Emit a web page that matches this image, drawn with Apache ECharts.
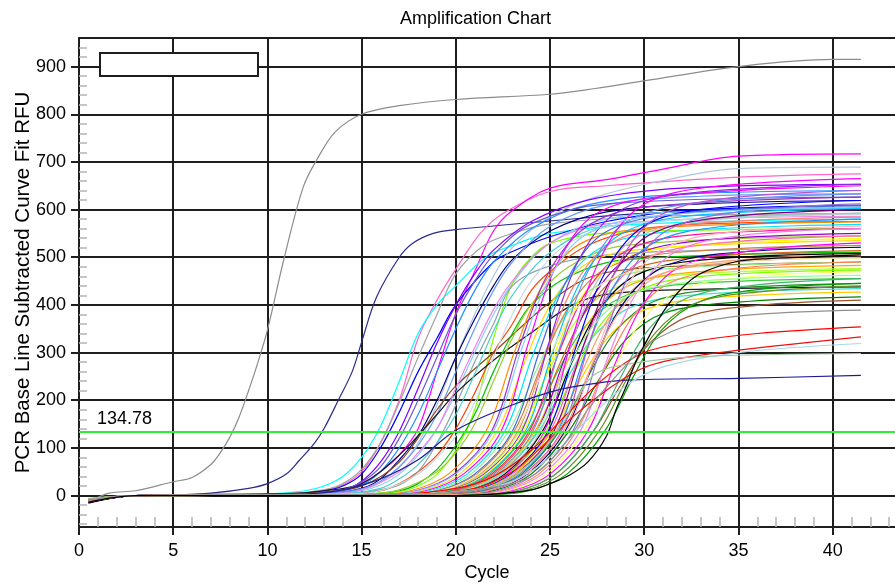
<!DOCTYPE html>
<html>
<head>
<meta charset="utf-8">
<script src="https://cdn.jsdelivr.net/npm/echarts@6/dist/echarts.min.js"></script>
<style>
  html, body { margin: 0; padding: 0; background: #fff; }
  #chart { width: 895px; height: 586px; }
</style>
</head>
<body>
<div id="chart"></div>
<script>
// Axis ticks and threshold
const xTicks = [0, 5, 10, 15, 20, 25, 30, 35, 40];
const yTicks = [0, 100, 200, 300, 400, 500, 600, 700, 800, 900];
const threshold = 134.78;

// Two early reference wells: [cycle, RFU]
const refColors = ['#8c8c8c', '#2b2b8c'];
const refCurves = [
  [[.5,-14],[1.6,5],[3,10],[5,29],[6,38],[7,65],[7.5,90],[8,122],[8.5,165],[9,220],[9.5,280],[10,347],[10.9,500],[11.9,647],[12.6,703],[13.6,763],[15,800],[17,818],[20,831],[25,842],[27.4,854],[30,870],[35,900],[40,915],[41.5,915]],
  [[.5,-10],[3,0],[5,1],[7,5],[9,15],[10,25],[11,45],[11.7,74],[12.5,110],[13,140],[13.8,203],[14.5,260],[15,322],[15.8,417],[17,500],[17.7,529],[18.8,550],[20,558],[25,576],[30,592],[41.5,605]]
];

// Early-amplifying wells
const earlyColors = ['#ff66cc','#ff00ff','#00ffff','#a0a0a0','#0000ff','#b0c4de','#1e90ff','#8000ff','#000080','#87cefa','#6699ff','#80ff00','#ff4500','#8fa0b0','#8b4513','#1a1a1a','#00c000','#9acd32','#ee82ee','#6a5acd','#48d1cc','#c8d8e8'];
const earlyCurves = [
  [[.5,-8],[3,0],[11,3],[13,10],[14,22],[15,50],[16,110],[17,200],[18,330],[19,410],[20,475],[21.3,550],[22.5,592],[25,638],[28,650],[35,668],[41.5,675]],
  [[.5,-10],[3,0],[12,3],[14,10],[15,25],[16,50],[17,85],[18,140],[19,260],[20,382],[21,470],[22,555],[23,598],[25,645],[28,663],[31,685],[35,712],[41.5,717]],
  [[.5,-9],[3,0],[10,3],[12,10],[13,20],[14,40],[15,80],[16,145],[17,240],[18,340],[19,400],[20,440],[21.6,500],[23,525],[25,550],[30,570],[41.5,580]],
  [[.5,-11],[3,0],[11,4],[13,12],[14,25],[15,55],[16,110],[17,195],[18,290],[19,380],[20,465],[21.5,525],[23,550],[25,570],[30,585],[41.5,592]],
  [[.5,-10],[3,0],[11,3],[13,10],[14,20],[15,45],[16,100],[17,175],[18,260],[19,330],[20,400],[22,490],[23,512],[25,543],[28,575],[32,598],[41.5,609]],
  [[.5,-8],[3,0],[13,4],[15,12],[16,28],[17,60],[18,110],[19,190],[20,290],[21,380],[22,460],[23,520],[25,585],[27.4,626],[31,661],[35,686],[41.5,689]],
  [[.5,-9],[3,0],[12,3],[14,10],[15,22],[16,50],[17,100],[18,170],[19,260],[20,350],[21,430],[22,490],[24,560],[27,610],[32,632],[41.5,640]],
  [[.5,-10],[3,0],[12,4],[14,12],[15,30],[16,70],[17,135],[18,225],[19,320],[20,400],[21,465],[22,515],[24,575],[27,620],[32,645],[41.5,653]],
  [[.5,-12],[3,0],[13,4],[15,15],[16,35],[17,75],[18,125],[19,200],[20,290],[21,370],[22,440],[23,495],[25,555],[28,595],[33,612],[41.5,619]],
  [[.5,-8],[3,0],[13,3],[15,10],[16,22],[17,45],[18,85],[19,140],[20,215],[21,300],[22,380],[23,445],[25,530],[28,580],[33,597],[41.5,602]],
  [[.5,-10],[3,0],[13,4],[15,14],[16,30],[17,60],[18,105],[19,170],[20,260],[21,350],[22,430],[23,490],[25,565],[28,610],[33,628],[41.5,633]],
  [[.5,-7],[3,0],[15,4],[17,8],[18,20],[19,45],[20,95],[21,180],[22,330],[23,445],[24,500],[25,529],[27.7,550],[33,557],[41.5,560]],
  [[.5,-9],[3,0],[14,3],[16,10],[17,25],[18,50],[19,85],[20,140],[21,215],[22,300],[23,360],[24,430],[25,470],[27,525],[30,560],[35,572],[41.5,575]],
  [[.5,-10],[3,0],[14,4],[16,12],[17,22],[18,50],[19,110],[20,190],[21,280],[22,360],[23,440],[25,482],[28,505],[35,516],[41.5,521]],
  [[.5,-11],[3,0],[11,3],[13,8],[15,20],[17,70],[19,180],[20,230],[22,300],[24.5,390],[26.4,445],[28,468],[31,480],[41.5,490]],
  [[.5,-13],[3,0],[11,4],[13,10],[15,25],[17,85],[19,170],[20,215],[22.2,290],[24.3,350],[26.2,400],[28,422],[32,432],[41.5,438]],
  [[.5,-8],[3,0],[15,3],[17,10],[18,25],[19,55],[20,105],[21,170],[22,260],[23,340],[24,400],[26,460],[29,495],[41.5,510]],
  [[.5,-9],[3,0],[15,3],[17,12],[19,50],[20,90],[21,150],[22,240],[23,330],[24,400],[26,480],[29,525],[41.5,545]],
  [[.5,-11],[3,0],[13,3],[15,12],[17,50],[18,90],[19,140],[20,225],[21,310],[22,390],[23,450],[25,530],[28,570],[41.5,586]],
  [[.5,-10],[3,0],[12,3],[14,12],[15,28],[16,60],[17,120],[18,200],[19,290],[20,380],[21,450],[22,505],[24,570],[28,612],[41.5,626]],
  [[.5,-9],[3,0],[14,4],[16,15],[17,35],[18,65],[19,110],[20,170],[21,255],[22,345],[23,420],[25,510],[28,565],[41.5,592]],
  [[.5,-8],[3,0],[14,3],[16,10],[18,45],[19,80],[20,125],[21,195],[22,290],[23,380],[24,450],[26,530],[29,570],[41.5,590]]
];

// Main cluster of wells
const mainColors = ['#ff8c00','#9932cc','#ffd700','#ff00ff','#00e5ff','#90ee90','#4169e1','#cd853f','#fa8072','#adff2f','#8a2be2','#ffff00','#00bfff','#32cd32','#ff1493','#d2691e','#6495ed','#ffa500','#9400d3','#40e0d0','#c0c0c0','#000000','#ff00ff','#7fff00','#0000ff','#ff69b4','#ffcc00','#800080','#f4a460','#1e90ff','#228b22','#ba55d3','#000080','#ffb6c1','#008000','#9370db','#ff7f50','#ee82ee','#ffff66','#ff00ff','#a0522d','#3cb371','#00a000','#6b8e23','#87cefa','#eee8aa','#98fb98','#ffa07a'];
const mainCurves = [
  [[.5,-12],[3,0],[15.6,2],[17.6,10],[19.6,45],[21.6,135],[23.1,300],[24.6,440],[26.6,528],[30,560],[41.5,574]],
  [[.5,-9],[3,0],[15.9,2],[17.9,10],[19.9,45],[21.9,135],[23.4,315],[24.9,466],[26.9,563],[30,605],[41.5,626]],
  [[.5,-14],[3,0],[16.2,2],[18.2,10],[20.2,45],[22.2,135],[23.7,285],[25.2,412],[27.2,492],[31,520],[41.5,535]],
  [[.5,-7],[3,0],[16.4,2],[18.4,10],[20.4,45],[22.4,135],[23.9,326],[25.4,488],[27.4,590],[31,628],[41.5,650]],
  [[.5,-11],[3,0],[16.6,2],[18.6,10],[20.6,45],[22.6,135],[24.1,296],[25.6,432],[27.6,518],[31,552],[41.5,569]],
  [[.5,-6],[3,0],[16.8,2],[18.8,10],[20.8,45],[22.8,135],[24.3,265],[25.8,376],[27.8,447],[31,475],[41.5,490]],
  [[.5,-13],[3,0],[17,2],[19,10],[21,45],[23,135],[24.5,310],[26,460],[28,554],[32,592],[41.5,609]],
  [[.5,-10],[3,0],[17.1,2],[19.1,10],[21.1,45],[23.1,135],[24.6,279],[26.1,402],[28.1,479],[32,511],[41.5,525]],
  [[.5,-8],[3,0],[17.3,2],[19.3,10],[21.3,45],[23.3,135],[24.8,302],[26.3,442],[28.3,531],[32,568],[41.5,584]],
  [[.5,-12],[3,0],[17.4,2],[19.4,10],[21.4,45],[23.4,135],[24.9,260],[26.4,367],[28.4,435],[32,463],[41.5,476]],
  [[.5,-15],[3,0],[17.5,2],[19.5,10],[21.5,45],[23.5,135],[25,328],[26.5,492],[28.5,593],[32,633],[41.5,653]],
  [[.5,-9],[3,0],[17.6,2],[19.6,10],[21.6,45],[23.6,135],[25.1,285],[26.6,412],[28.6,491],[32,524],[41.5,539]],
  [[.5,-11],[3,0],[17.7,2],[19.7,10],[21.7,45],[23.7,135],[25.2,308],[26.7,455],[28.7,547],[32,585],[41.5,602]],
  [[.5,-7],[3,0],[17.8,2],[19.8,10],[21.8,45],[23.8,135],[25.3,252],[26.8,352],[28.8,416],[32,443],[41.5,455]],
  [[.5,-13],[3,0],[17.9,2],[19.9,10],[21.9,45],[23.9,135],[25.4,293],[26.9,426],[28.9,510],[32,545],[41.5,560]],
  [[.5,-10],[3,0],[18,2],[20,10],[22,45],[24,135],[25.5,275],[27,392],[29,469],[33,500],[41.5,514]],
  [[.5,-12],[3,0],[18.1,2],[20.1,10],[22.1,45],[24.1,135],[25.6,320],[27.1,477],[29.1,575],[33,615],[41.5,633]],
  [[.5,-8],[3,0],[18.2,2],[20.2,10],[22.2,45],[24.2,135],[25.7,263],[27.2,372],[29.2,441],[33,470],[41.5,483]],
  [[.5,-14],[3,0],[18.3,2],[20.3,10],[22.3,45],[24.3,135],[25.8,289],[27.3,419],[29.3,501],[33,535],[41.5,550]],
  [[.5,-9],[3,0],[18.4,2],[20.4,10],[22.4,45],[24.4,135],[25.9,245],[27.4,338],[29.4,397],[33,422],[41.5,434]],
  [[.5,-11],[3,0],[18.5,2],[20.5,10],[22.5,45],[24.5,135],[26,305],[27.5,449],[29.5,539],[33,576],[41.5,592]],
  [[.5,-16],[3,0],[18.6,2],[20.6,10],[22.6,45],[24.6,135],[26.1,274],[27.6,390],[29.6,463],[33,494],[41.5,508]],
  [[.5,-10],[3,0],[18.7,2],[20.7,10],[22.7,45],[24.7,135],[26.2,333],[27.7,500],[29.7,604],[33,645],[41.5,665]],
  [[.5,-7],[3,0],[18.8,2],[20.8,10],[22.8,45],[24.8,135],[26.3,259],[27.8,365],[29.8,432],[33,460],[41.5,473]],
  [[.5,-12],[3,0],[18.9,2],[20.9,10],[22.9,45],[24.9,135],[26.4,314],[27.9,466],[29.9,563],[33,600],[41.5,619]],
  [[.5,-9],[3,0],[19,2],[21,10],[23,45],[25,135],[26.5,287],[28,416],[30,496],[34,530],[41.5,545]],
  [[.5,-11],[3,0],[19.1,2],[21.1,10],[23.1,45],[25.1,135],[26.6,242],[28.1,333],[30.1,391],[34,416],[41.5,427]],
  [[.5,-13],[3,0],[19.2,2],[21.2,10],[23.2,45],[25.2,135],[26.7,306],[28.2,452],[30.2,545],[34,583],[41.5,600]],
  [[.5,-8],[3,0],[19.3,2],[21.3,10],[23.3,45],[25.3,135],[26.8,269],[28.3,384],[30.3,456],[34,487],[41.5,500]],
  [[.5,-10],[3,0],[19.4,2],[21.4,10],[23.4,45],[25.4,135],[26.9,300],[28.4,440],[30.4,528],[34,564],[41.5,580]],
  [[.5,-12],[3,0],[19.5,2],[21.5,10],[23.5,45],[25.5,135],[27,248],[28.5,346],[30.5,407],[34,433],[41.5,445]],
  [[.5,-9],[3,0],[19.6,2],[21.6,10],[23.6,45],[25.6,135],[27.1,322],[28.6,482],[30.6,582],[34,622],[41.5,640]],
  [[.5,-14],[3,0],[19.8,2],[21.8,10],[23.8,45],[25.8,135],[27.3,278],[28.8,398],[30.8,475],[34,507],[41.5,521]],
  [[.5,-7],[3,0],[19.9,2],[21.9,10],[23.9,45],[25.9,135],[27.4,295],[28.9,430],[30.9,515],[34,550],[41.5,565]],
  [[.5,-11],[3,0],[20,2],[22,10],[24,45],[26,135],[27.5,237],[29,326],[31,382],[35,406],[41.5,417]],
  [[.5,-10],[3,0],[20.2,2],[22.2,10],[24.2,45],[26.2,135],[27.7,310],[29.2,462],[31.2,556],[35,595],[41.5,612]],
  [[.5,-8],[3,0],[20.4,2],[22.4,10],[24.4,45],[26.4,135],[27.9,266],[29.4,376],[31.4,447],[35,477],[41.5,490]],
  [[.5,-12],[3,0],[20.6,2],[22.6,10],[24.6,45],[26.6,135],[28.1,293],[29.6,426],[31.6,510],[35,545],[41.5,560]],
  [[.5,-9],[3,0],[20.8,2],[22.8,10],[24.8,45],[26.8,135],[28.3,258],[29.8,363],[31.8,429],[35,457],[41.5,470]],
  [[.5,-13],[3,0],[21,2],[23,10],[25,45],[27,135],[28.5,281],[30,405],[32,482],[36,515],[41.5,530]],
  [[.5,-10],[3,0],[21.3,2],[23.3,10],[25.3,45],[27.3,135],[28.8,235],[30.3,320],[32.3,375],[36,399],[41.5,410]],
  [[.5,-11],[3,0],[21.3,2],[23.3,10],[25.3,45],[27.3,135],[28.8,252],[30.3,352],[32.3,415],[36,442],[41.5,455]],
  [[.5,-8],[3,0],[21.9,2],[23.9,10],[25.9,45],[27.9,135],[29.4,248],[30.9,346],[32.9,406],[36,432],[41.5,445]],
  [[.5,-12],[3,0],[21.6,2],[23.6,10],[25.6,45],[27.6,135],[29.1,246],[30.6,342],[32.6,402],[36,427],[41.5,440]],
  [[.5,-10],[3,0],[16,2],[18,10],[20,45],[22,135],[23.5,308],[25,458],[27,550],[31,588],[41.5,605]],
  [[.5,-9],[3,0],[17.2,2],[19.2,10],[21.2,45],[23.2,135],[24.7,268],[26.2,382],[28.2,454],[32,485],[41.5,498]],
  [[.5,-11],[3,0],[18.3,2],[20.3,10],[22.3,45],[24.3,135],[25.8,254],[27.3,357],[29.3,422],[33,450],[41.5,462]],
  [[.5,-13],[3,0],[19.7,2],[21.7,10],[23.7,45],[25.7,135],[27.2,271],[28.7,387],[30.7,460],[34,491],[41.5,505]]
];

// Low-plateau and late wells
const lowColors = ['#1c1c99','#ff0000','#ee1111','#a8d8e8','#9cc89c','#909090','#000000'];
const lowCurves = [
  [[.5,-10],[3,0],[12,3],[14,12],[16,35],[18,75],[20,137],[23,190],[25,217],[26.2,228],[29,242],[35,246],[41.5,252]],
  [[.5,-9],[3,0],[17,3],[20,15],[22,40],[24,95],[26,175],[28,250],[30,300],[32.4,322],[36,340],[41.5,354]],
  [[.5,-12],[3,0],[18,3],[21,15],[23,50],[24.5,100],[26.2,165],[28,221],[29.8,265],[31.5,285],[35,305],[41.5,333]],
  [[.5,-8],[3,0],[18,3],[21,12],[23,30],[25,80],[27,160],[29,230],[31,270],[35,300],[41.5,319]],
  [[.5,-10],[3,0],[18,3],[20,8],[22,20],[24,70],[25.5,140],[26.5,210],[27.4,255],[29,275],[32.7,291],[41.5,298]],
  [[.5,-9],[3,0],[18,3],[21,12],[24,40],[26,120],[27,180],[28.5,250],[30.3,320],[32.7,361],[36,380],[41.5,389]],
  [[.5,-14],[3,0],[20,0],[22,3],[24,12],[25,25],[26,42],[27,70],[28,125],[28.5,180],[29,225],[29.6,285],[30,315],[31,385],[32,435],[33,466],[34.8,490],[36.6,497],[41.5,505]]
];

const FONT = '"Liberation Sans", Arial, sans-serif';
const GRID_COLOR = '#1e1e1e';

const xMinorTicks = [];
for (let c = 1; c <= 43; c++) if (c % 5 !== 0) xMinorTicks.push(c);
const yMinorTicks = [];
for (let v = -60; v <= 940; v += 20) if (v % 100 !== 0) yMinorTicks.push(v);

function curveSeries(points, color) {
  return {
    type: 'line',
    data: points,
    showSymbol: false,
    symbol: 'none',
    smooth: 0.35,
    silent: true,
    lineStyle: { color: color, width: 1.2 },
    z: 2
  };
}

const series = [];
refCurves.forEach((p, i) => series.push(curveSeries(p, refColors[i])));
earlyCurves.forEach((p, i) => series.push(curveSeries(p, earlyColors[i])));
mainCurves.forEach((p, i) => series.push(curveSeries(p, mainColors[i])));
lowCurves.forEach((p, i) => series.push(curveSeries(p, lowColors[i])));

// Threshold line with its value label
series.push({
  type: 'line',
  data: [],
  silent: true,
  z: 4,
  markLine: {
    silent: true,
    symbol: 'none',
    animation: false,
    lineStyle: { color: '#2cf02c', width: 2, type: 'solid' },
    label: {
      show: true,
      position: 'insideStartTop',
      formatter: String(threshold),
      fontFamily: FONT,
      fontSize: 18,
      color: '#000',
      distance: [18, 3]
    },
    data: [{ yAxis: threshold }]
  }
});

const chart = echarts.init(document.getElementById('chart'), null, { renderer: 'canvas' });
chart.setOption({
  animation: false,
  backgroundColor: '#fff',
  textStyle: { fontFamily: FONT },
  title: {
    text: 'Amplification Chart',
    left: 400,
    top: 10,
    padding: 0,
    textStyle: { fontFamily: FONT, fontSize: 18, fontWeight: 'normal', color: '#000' }
  },
  grid: { left: 79, right: 0, top: 38, bottom: 59, containLabel: false, outerBoundsMode: 'none' },
  xAxis: [
    {
      type: 'value', min: 0, max: 43.31, interval: 5, position: 'bottom',
      name: 'Cycle', nameLocation: 'middle', nameGap: 37, nameMoveOverlap: false,
      nameTextStyle: { fontFamily: FONT, fontSize: 18, color: '#000' },
      axisLine: { show: true, onZero: false, lineStyle: { color: GRID_COLOR, width: 2 } },
      axisTick: { show: true, inside: false, length: 8, customValues: xTicks, lineStyle: { color: GRID_COLOR, width: 2 } },
      axisLabel: { customValues: xTicks, fontFamily: FONT, fontSize: 18, color: '#000', margin: 15 },
      splitLine: { show: true, lineStyle: { color: GRID_COLOR, width: 2 } }
    },
    {
      type: 'value', min: 0, max: 43.31, position: 'bottom',
      axisLine: { show: false, onZero: false },
      axisTick: { show: true, inside: true, length: 10, customValues: xMinorTicks, lineStyle: { color: '#b4b4b4', width: 1.5 } },
      axisLabel: { show: false },
      splitLine: { show: false }
    },
    {
      type: 'value', min: 0, max: 43.31, position: 'top',
      axisLine: { show: true, onZero: false, lineStyle: { color: GRID_COLOR, width: 2 } },
      axisTick: { show: false },
      axisLabel: { show: false },
      splitLine: { show: false }
    }
  ],
  yAxis: [
    {
      type: 'value', min: -66, max: 960, position: 'left',
      name: 'PCR Base Line Subtracted Curve Fit RFU', nameLocation: 'middle', nameGap: 45, nameMoveOverlap: false,
      nameTextStyle: { fontFamily: FONT, fontSize: 20.5, color: '#000' },
      axisLine: { show: true, onZero: false, lineStyle: { color: GRID_COLOR, width: 2 } },
      axisTick: { show: true, inside: false, length: 8, customValues: yTicks, lineStyle: { color: GRID_COLOR, width: 2 } },
      axisLabel: { customValues: yTicks, fontFamily: FONT, fontSize: 18, color: '#000', margin: 13 },
      splitLine: { show: true, lineStyle: { color: GRID_COLOR, width: 2 } }
    },
    {
      type: 'value', min: -66, max: 960, position: 'left',
      axisLine: { show: false, onZero: false },
      axisTick: { show: true, inside: true, length: 8, customValues: yMinorTicks, lineStyle: { color: '#b4b4b4', width: 1.5 } },
      axisLabel: { show: false },
      splitLine: { show: false }
    }
  ],
  graphic: [
    {
      type: 'rect',
      shape: { x: 100, y: 53, width: 158, height: 23 },
      style: { fill: '#fff', stroke: GRID_COLOR, lineWidth: 2 },
      z: 100
    }
  ],
  series: series
});
</script>
</body>
</html>
